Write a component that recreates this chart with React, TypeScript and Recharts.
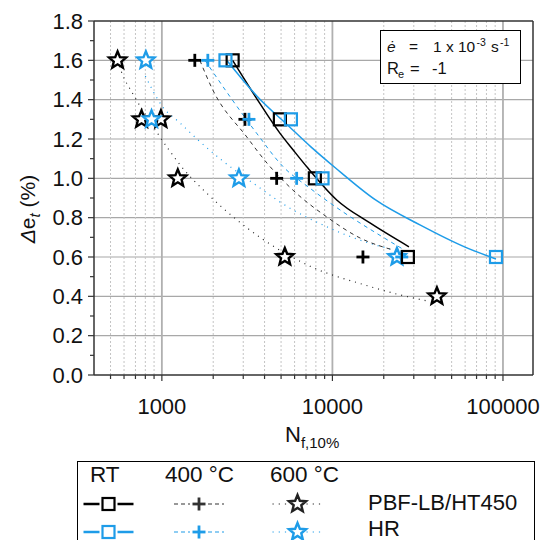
import { CartesianGrid, ComposedChart, Line, Scatter, XAxis, YAxis } from "recharts";

const BLUE = "#1E9CE8";
const FONT = "'Liberation Sans', Arial, sans-serif";

// measured points (strain amplitude vs cycles to 10 % load drop)
const rtPbfN = [2600, 4920, 7890, 27700];
const rtPbfE = [1.6, 1.3, 1.0, 0.6];
const rtHrN = [2360, 5710, 8750, 91000];
const rtHrE = [1.6, 1.3, 1.0, 0.6];
const t400PbfN = [1560, 3070, 4710, 15100];
const t400PbfE = [1.6, 1.3, 1.0, 0.6];
const t400HrN = [1860, 3240, 6170, 25500];
const t400HrE = [1.6, 1.3, 1.0, 0.6];
const t600PbfN = [550, 760, 987, 1240, 5260, 41000];
const t600PbfE = [1.6, 1.3, 1.3, 1.0, 0.6, 0.4];
const t600HrN = [806, 870, 2830, 23900];
const t600HrE = [1.6, 1.3, 1.0, 0.6];

// fit curves
const fitRtPbfN = [2600, 3590, 4920, 5890, 7180, 10600, 16600, 28100];
const fitRtPbfE = [1.6, 1.407, 1.23, 1.144, 1.052, 0.89, 0.773, 0.652];
const fitRtHrN = [2400, 3590, 5630, 7480, 10350, 17900, 32600, 60000, 91000];
const fitRtHrE = [1.6, 1.42, 1.26, 1.16, 1.055, 0.89, 0.763, 0.65, 0.59];
const fit400PbfN = [1670, 1990, 3150, 4130, 5870, 9290, 14500, 22600];
const fit400PbfE = [1.6, 1.449, 1.21, 1.078, 0.94, 0.803, 0.697, 0.636];
const fit400HrN = [1790, 2510, 3590, 5130, 7380, 11500, 18200, 25900];
const fit400HrE = [1.6, 1.415, 1.23, 1.06, 0.95, 0.83, 0.72, 0.64];
const fit600PbfN = [550, 580, 676, 910, 1110, 1360, 1830, 2740, 3910, 7530, 15200, 24200, 36800];
const fit600PbfE = [1.6, 1.54, 1.43, 1.25, 1.14, 1.04, 0.925, 0.79, 0.69, 0.55, 0.46, 0.41, 0.375];
const fit600HrN = [800, 1010, 1280, 1630, 2240, 3760, 4900, 9250, 14500, 22000];
const fit600HrE = [1.52, 1.364, 1.281, 1.195, 1.093, 0.951, 0.881, 0.754, 0.686, 0.64];

const xMajor = [1000, 10000, 100000];
const xMinor = [
  500, 600, 700, 800, 900, 2000, 3000, 4000, 5000, 6000, 7000, 8000, 9000,
  20000, 30000, 40000, 50000, 60000, 70000, 80000, 90000,
];
const xTicks = [...xMinor, ...xMajor].sort((a, b) => a - b);
const yTicks = [0, 0.1, 0.2, 0.3, 0.4, 0.5, 0.6, 0.7, 0.8, 0.9, 1.0, 1.1, 1.2, 1.3, 1.4, 1.5, 1.6, 1.7, 1.8];
const yGrid = [0.2, 0.4, 0.6, 0.8, 1.0, 1.2, 1.4, 1.6];

const pts = (n: number[], e: number[]) => n.map((x, i) => ({ x, y: e[i] }));

function starPath(cx: number, cy: number, R: number, r: number) {
  let d = "";
  for (let i = 0; i < 10; i++) {
    const rad = i % 2 === 0 ? R : r;
    const a = -Math.PI / 2 + (i * Math.PI) / 5;
    d += (i === 0 ? "M" : "L") + (cx + rad * Math.cos(a)).toFixed(2) + "," + (cy + rad * Math.sin(a)).toFixed(2);
  }
  return d + "Z";
}

function SquareMark({ cx, cy, color }: { cx: number; cy: number; color: string }) {
  return <rect x={cx - 6} y={cy - 6} width={12} height={12} fill="none" stroke={color} strokeWidth={2.2} />;
}

function PlusMark({ cx, cy, color }: { cx: number; cy: number; color: string }) {
  return (
    <g stroke={color} strokeWidth={2.8}>
      <line x1={cx - 6.5} y1={cy} x2={cx + 6.5} y2={cy} />
      <line x1={cx} y1={cy - 6.5} x2={cx} y2={cy + 6.5} />
    </g>
  );
}

function StarMark({ cx, cy, color }: { cx: number; cy: number; color: string }) {
  return <path d={starPath(cx, cy, 9, 4)} fill="#fff" stroke={color} strokeWidth={2.4} strokeLinejoin="miter" />;
}

const isMajorX = (v: number) => xMajor.includes(v);
const isMajorY = (v: number) => Math.round(v * 10) % 2 === 0;

function BottomTick(p: any) {
  const v = p.payload.value;
  const major = isMajorX(v);
  return (
    <g>
      <line x1={p.x} y1={p.y} x2={p.x} y2={p.y + (major ? 6 : 4)} stroke="#333" strokeWidth={1.2} />
      {major && (
        <text x={p.x} y={p.y + 39} textAnchor="middle" fontSize={22} fill="#111" fontFamily={FONT}>
          {v}
        </text>
      )}
    </g>
  );
}

function TopTick(p: any) {
  const major = isMajorX(p.payload.value);
  return <line x1={p.x} y1={p.y} x2={p.x} y2={p.y + (major ? 6 : 4)} stroke="#333" strokeWidth={1.2} />;
}

function LeftTick(p: any) {
  const v = p.payload.value;
  const major = isMajorY(v);
  return (
    <g>
      <line x1={p.x - (major ? 6 : 4)} y1={p.y} x2={p.x} y2={p.y} stroke="#333" strokeWidth={1.2} />
      {major && (
        <text x={p.x - 11} y={p.y} textAnchor="end" dominantBaseline="central" fontSize={22} fill="#111" fontFamily={FONT}>
          {v.toFixed(1)}
        </text>
      )}
    </g>
  );
}

function RightTick(p: any) {
  const major = isMajorY(p.payload.value);
  return <line x1={p.x - (major ? 6 : 4)} y1={p.y} x2={p.x} y2={p.y} stroke="#333" strokeWidth={1.2} />;
}

const fits = [
  { n: fit600PbfN, e: fit600PbfE, color: "#222", dash: "1 5", w: 1.2 },
  { n: fit600HrN, e: fit600HrE, color: BLUE, dash: "1 5", w: 1.2 },
  { n: fit400PbfN, e: fit400PbfE, color: "#333", dash: "4 4", w: 1 },
  { n: fit400HrN, e: fit400HrE, color: BLUE, dash: "4 4", w: 1 },
  { n: fitRtPbfN, e: fitRtPbfE, color: "#000", dash: undefined, w: 1.5 },
  { n: fitRtHrN, e: fitRtHrE, color: BLUE, dash: undefined, w: 1.5 },
];

const marks = [
  { n: t600PbfN, e: t600PbfE, color: "#000", M: StarMark },
  { n: t600HrN, e: t600HrE, color: BLUE, M: StarMark },
  { n: t400PbfN, e: t400PbfE, color: "#000", M: PlusMark },
  { n: t400HrN, e: t400HrE, color: BLUE, M: PlusMark },
  { n: rtPbfN, e: rtPbfE, color: "#000", M: SquareMark },
  { n: rtHrN, e: rtHrE, color: BLUE, M: SquareMark },
];

function Swatch({ x, y, color, dash, M }: { x: number; y: number; color: string; dash?: string; M: any }) {
  return (
    <g>
      <line x1={x - 25} y1={y} x2={x - 9} y2={y} stroke={color} strokeWidth={dash ? 1.2 : 2.5} strokeDasharray={dash} />
      <line x1={x + 9} y1={y} x2={x + 25} y2={y} stroke={color} strokeWidth={dash ? 1.2 : 2.5} strokeDasharray={dash} />
      <M cx={x} cy={y} color={color} />
    </g>
  );
}

export default function App() {
  return (
    <div style={{ position: "absolute", left: 0, top: 0, width: 542, height: 540, background: "#fff", overflow: "hidden" }}>
      <ComposedChart width={542} height={540} margin={{ top: 20, right: 8, bottom: 125, left: 0 }}>
        <CartesianGrid vertical={false} horizontalValues={yGrid} stroke="#a8a8a8" strokeWidth={1.2} />
        <CartesianGrid horizontal={false} verticalValues={xMinor} stroke="#c4c4c4" strokeDasharray="2 2" />
        <CartesianGrid horizontal={false} verticalValues={xMajor} stroke="#b0b0b0" strokeWidth={1.8} />
        <XAxis
          dataKey="x"
          type="number"
          scale="log"
          domain={[400, 150000]}
          allowDataOverflow
          ticks={xTicks}
          interval={0}
          tickSize={0}
          tickMargin={0}
          tick={BottomTick}
          height={40}
          axisLine={{ stroke: "#333", strokeWidth: 1.5 }}
        />
        <XAxis
          xAxisId="top"
          orientation="top"
          type="number"
          scale="log"
          domain={[400, 150000]}
          allowDataOverflow
          ticks={xTicks}
          interval={0}
          tickSize={0}
          tickMargin={0}
          tick={TopTick}
          height={1}
          axisLine={{ stroke: "#333", strokeWidth: 1.5 }}
        />
        <YAxis
          dataKey="y"
          type="number"
          domain={[0, 1.8]}
          ticks={yTicks}
          interval={0}
          tickSize={0}
          tickMargin={0}
          tick={LeftTick}
          width={94}
          axisLine={{ stroke: "#333", strokeWidth: 1.5 }}
        />
        <YAxis
          yAxisId="right"
          orientation="right"
          type="number"
          domain={[0, 1.8]}
          ticks={yTicks}
          interval={0}
          tickSize={0}
          tickMargin={0}
          tick={RightTick}
          width={1}
          axisLine={{ stroke: "#333", strokeWidth: 1.5 }}
        />
        {fits.map((f, i) => (
          <Line
            key={"fit" + i}
            data={pts(f.n, f.e)}
            dataKey="y"
            type="monotone"
            stroke={f.color}
            strokeWidth={f.w}
            strokeDasharray={f.dash}
            dot={false}
            activeDot={false}
            isAnimationActive={false}
          />
        ))}
        {marks.map((m, i) => (
          <Scatter
            key={"m" + i}
            data={pts(m.n, m.e)}
            dataKey="y"
            isAnimationActive={false}
            shape={(p: any) => <m.M cx={p.cx} cy={p.cy} color={m.color} />}
          />
        ))}
      </ComposedChart>

      <svg width={542} height={540} style={{ position: "absolute", left: 0, top: 0, pointerEvents: "none" }} fontFamily={FONT}>
        {/* annotation */}
        <rect x={380.5} y={30.5} width={140} height={53} fill="#fff" stroke="#000" strokeWidth={1} />
        <text y={52} fontSize={15.5} fill="#111">
          <tspan x={387} fontStyle="italic">ė</tspan>
          <tspan x={409}>=</tspan>
          <tspan x={433}>1 x 10</tspan>
          <tspan x={476.5} dy={-6} fontSize={10.5}>-3</tspan>
          <tspan x={491} dy={6}>s</tspan>
          <tspan x={500} dy={-6} fontSize={10.5}>-1</tspan>
        </text>
        <text y={74} fontSize={16.5} fill="#111">
          <tspan x={387}>R</tspan>
          <tspan x={398} dy={4} fontSize={11}>e</tspan>
          <tspan x={410} dy={-4}>=</tspan>
          <tspan x={432}>-1</tspan>
        </text>

        {/* axis titles */}
        <text x={285} y={442} fontSize={22} fill="#111">
          N<tspan fontSize={15} dy={6}>f,10%</tspan>
        </text>
        <text transform="translate(35,209) rotate(-90)" textAnchor="middle" fontSize={21} fill="#111">
          <tspan fontStyle="italic">Δ</tspan>e<tspan fontStyle="italic" fontSize={15} dy={5}>t</tspan>
          <tspan dy={-5}> (%)</tspan>
        </text>

        {/* legend */}
        <rect x={77.5} y={461.5} width={457} height={100} fill="#fff" stroke="#000" strokeWidth={1} />
        <g fontSize={22.5} fill="#111">
          <text x={90} y={482}>RT</text>
          <text x={165} y={482}>400 °C</text>
          <text x={270} y={482}>600 °C</text>
        </g>
        <g fontSize={22} fill="#111">
          <text x={368} y={510}>PBF-LB/HT450</text>
          <text x={368} y={535.5}>HR</text>
        </g>
        <Swatch x={108.5} y={504} color="#000" M={SquareMark} />
        <Swatch x={199} y={504} color="#333" dash="4 3" M={PlusMark} />
        <Swatch x={297.5} y={504} color="#222" dash="1.2 5" M={StarMark} />
        <Swatch x={108.5} y={532} color={BLUE} M={SquareMark} />
        <Swatch x={199} y={532} color={BLUE} dash="4 3" M={PlusMark} />
        <Swatch x={297.5} y={532} color={BLUE} dash="1.2 5" M={StarMark} />
      </svg>
    </div>
  );
}
